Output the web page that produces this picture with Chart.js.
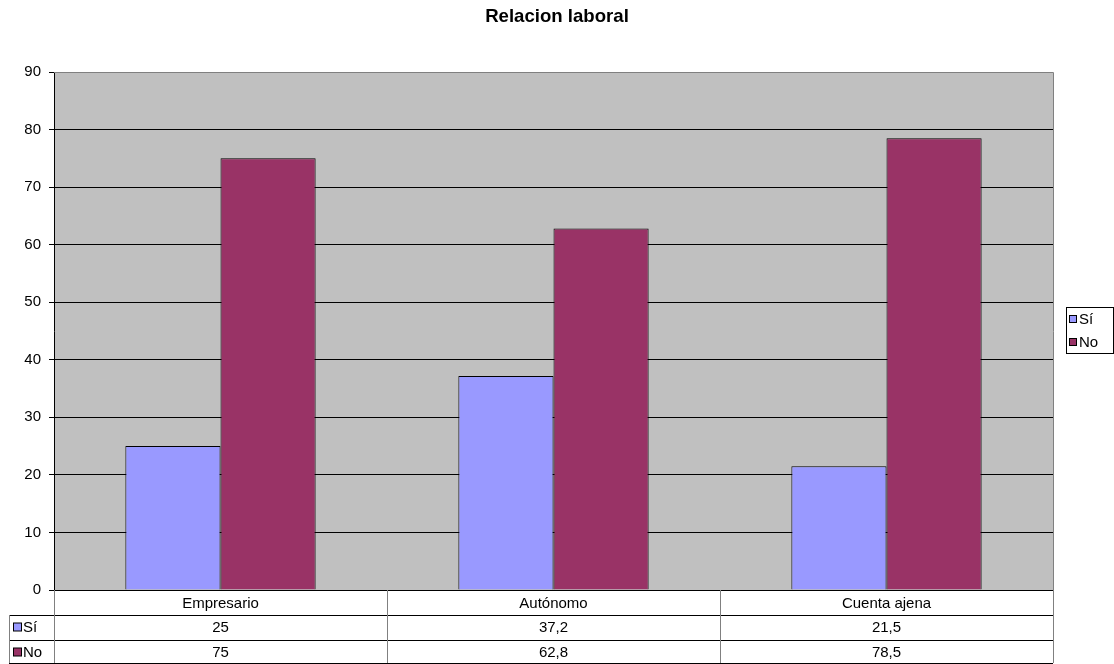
<!DOCTYPE html>
<html>
<head>
<meta charset="utf-8">
<script src="https://cdn.jsdelivr.net/npm/chart.js@4.4.1/dist/chart.umd.min.js"></script>
<style>
html,body{margin:0;padding:0;background:#fff;}
canvas{display:block;}
</style>
</head>
<body>
<canvas id="c" width="1114" height="664"></canvas>
<script>
const categories = ['Empresario', 'Autónomo', 'Cuenta ajena'];
const seriesNames = ['Sí', 'No'];
const siValues = [25, 37.2, 21.5];
const noValues = [75, 62.8, 78.5];
const seriesColors = ['#9999FF', '#993366'];
const chartTitle = 'Relacion laboral';

const FONT = 'Arial, "Liberation Sans", sans-serif';
const FS = 15;
const fmt = v => String(v).replace('.', ',');

const extras = {
  id: 'extras',
  beforeDraw(chart) {
    const {ctx, chartArea: a} = chart;
    ctx.save();
    ctx.fillStyle = '#C0C0C0';
    ctx.fillRect(a.left, a.top, a.right - a.left, a.bottom - a.top);
    ctx.restore();
  },
  afterDraw(chart) {
    const {ctx, chartArea: a} = chart;
    const x = chart.scales.x;
    const n = categories.length;
    const catW = (a.right - a.left) / n;
    ctx.save();
    // title
    ctx.fillStyle = '#000';
    ctx.font = 'bold 18.6px ' + FONT;
    ctx.textAlign = 'center';
    ctx.textBaseline = 'alphabetic';
    ctx.fillText(chartTitle, chart.width / 2, 22);

    ctx.strokeStyle = '#808080';
    ctx.lineWidth = 1;
    ctx.beginPath();
    ctx.moveTo(a.left, Math.round(a.top) + 0.5);
    ctx.lineTo(Math.round(a.right) + 0.5, Math.round(a.top) + 0.5);
    ctx.lineTo(Math.round(a.right) + 0.5, Math.round(a.bottom));
    ctx.stroke();

    const top = Math.round(a.bottom);
    const rowH = 25;
    const rows = [top, top + rowH, top + 2 * rowH, top + 3 * rowH - 2];
    const tableLeft = 9;
    ctx.strokeStyle = '#000';
    ctx.beginPath();
    ctx.moveTo(a.left, rows[0] + 0.5); ctx.lineTo(a.right, rows[0] + 0.5);
    for (let i = 1; i < rows.length; i++) {
      ctx.moveTo(tableLeft, rows[i] + 0.5); ctx.lineTo(a.right, rows[i] + 0.5);
    }
    ctx.stroke();
    ctx.strokeStyle = '#808080';
    ctx.beginPath();
    for (let i = 0; i <= n; i++) {
      const xx = Math.round(a.left + i * catW) + 0.5;
      ctx.moveTo(xx, rows[0]); ctx.lineTo(xx, rows[3]);
    }
    ctx.moveTo(tableLeft + 0.5, rows[1]); ctx.lineTo(tableLeft + 0.5, rows[3]);
    ctx.stroke();

    ctx.fillStyle = '#000';
    ctx.font = FS + 'px ' + FONT;
    ctx.textAlign = 'center';
    ctx.textBaseline = 'middle';
    const seriesData = [siValues, noValues];
    categories.forEach((c, i) => {
      const cx = x.getPixelForValue(i);
      ctx.fillText(c, cx, rows[0] + rowH / 2 + 1);
      seriesData.forEach((arr, s) => {
        ctx.fillText(fmt(arr[i]), cx, rows[s + 1] + rowH / 2);
      });
    });
    ctx.textAlign = 'left';
    seriesNames.forEach((name, s) => {
      const cy = rows[s + 1] + rowH / 2;
      ctx.fillStyle = seriesColors[s];
      ctx.fillRect(13.5, cy - 4.5, 8, 8);
      ctx.strokeStyle = '#000';
      ctx.strokeRect(13.5, cy - 4.5, 8, 8);
      ctx.fillStyle = '#000';
      ctx.fillText(name, 23, cy);
    });

    const lx = 1066, ly = 307, lw = 47, lh = 46;
    ctx.strokeStyle = '#000';
    ctx.strokeRect(lx + 0.5, ly + 0.5, lw, lh);
    seriesNames.forEach((name, s) => {
      const cy = ly + 12 + s * 23;
      ctx.fillStyle = seriesColors[s];
      ctx.fillRect(lx + 3.5, cy - 3.5, 7, 7);
      ctx.strokeStyle = '#000';
      ctx.strokeRect(lx + 3.5, cy - 3.5, 7, 7);
      ctx.fillStyle = '#000';
      ctx.fillText(name, lx + 13, cy + 1);
    });
    ctx.restore();
  }
};

new Chart(document.getElementById('c'), {
  type: 'bar',
  data: {
    labels: categories,
    datasets: [
      {label: seriesNames[0], data: siValues, backgroundColor: seriesColors[0], borderColor: '#000', borderWidth: 1},
      {label: seriesNames[1], data: noValues, backgroundColor: seriesColors[1], borderColor: '#000', borderWidth: 1}
    ]
  },
  options: {
    responsive: false,
    animation: false,
    devicePixelRatio: 1,
    layout: {padding: {left: 0, right: 61, top: 72, bottom: 74}},
    datasets: {bar: {categoryPercentage: 2 / 3.5, barPercentage: 1}},
    plugins: {
      legend: {display: false},
      tooltip: {enabled: false},
      title: {display: false}
    },
    scales: {
      x: {display: false},
      y: {
        min: 0, max: 90,
        afterFit(scale) { scale.width = 54; },
        ticks: {stepSize: 10, color: '#000', font: {family: FONT, size: FS}, padding: 8},
        grid: {
          color: ctx => (ctx.tick && ctx.tick.value === 90) ? '#808080' : '#000',
          tickColor: '#000',
          tickLength: 5,
          lineWidth: 1
        },
        border: {color: '#000', width: 1}
      }
    }
  },
  plugins: [extras]
});
</script>
</body>
</html>
